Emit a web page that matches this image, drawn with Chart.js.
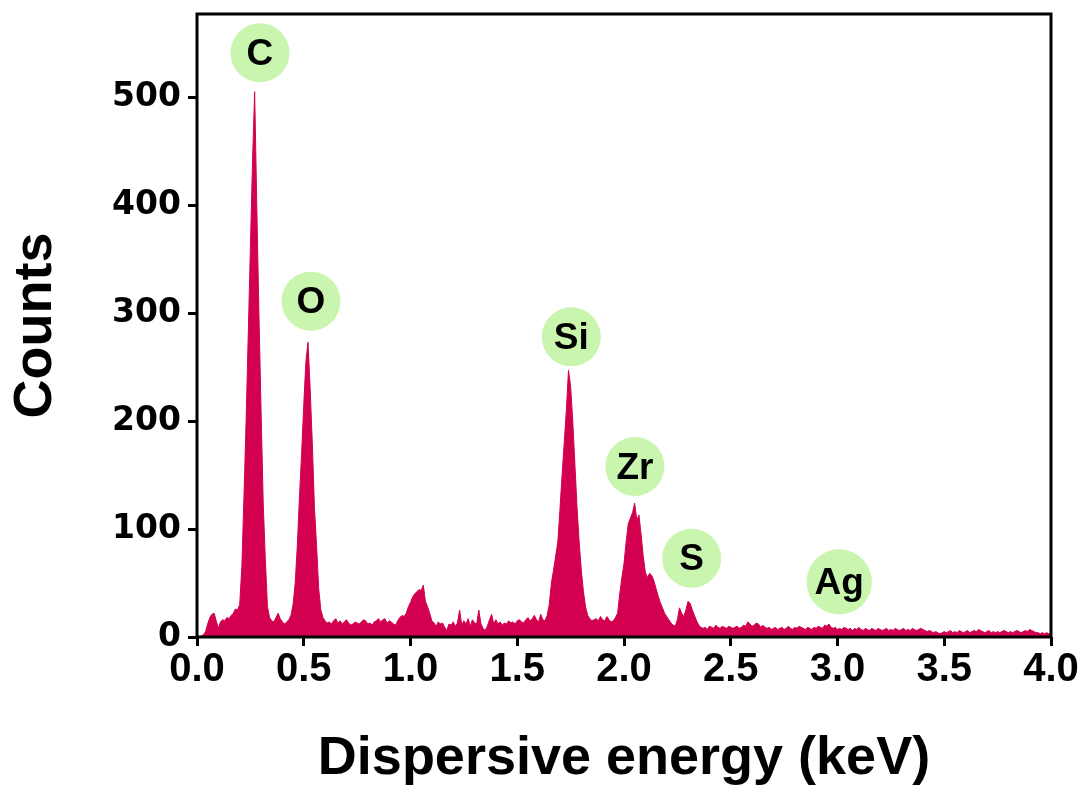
<!DOCTYPE html>
<html lang="en">
<head>
    <meta charset="UTF-8">
    <title>EDS Spectrum</title>
    <script src="https://cdn.jsdelivr.net/npm/chart.js"></script>
    <style>
        body {
            margin: 0;
            background-color: #fff;
        }
        #spectrum {
            display: block;
        }
    </style>
</head>
<body>
    <canvas id="spectrum" width="1085" height="792"></canvas>

    <script>
        // counts, one value every 0.01 keV
        const E_STEP = 0.01;
        const counts0to1 = [
            0, 0, 1, 2, 5, 12, 18, 21, 22, 15,
            8, 14, 16, 15, 18, 17, 20, 22, 26, 25,
            30, 65, 130, 200, 280, 360, 440, 505, 400, 300,
            210, 125, 72, 28, 18, 15, 14, 18, 22, 17,
            14, 12, 14, 16, 20, 30, 50, 85, 130, 170,
            215, 255, 273, 230, 180, 120, 85, 45, 25, 18,
            15, 13, 14, 12, 15, 17, 13, 15, 12, 14,
            16, 13, 11, 12, 14, 13, 12, 14, 16, 15,
            12, 13, 11, 14, 15, 17, 14, 16, 17, 13,
            15, 14, 12, 11, 15, 18, 20, 19, 22, 28
        ];
        const counts1to2 = [
            32, 37, 40, 42, 44, 43, 48, 33, 28, 22,
            15, 13, 10, 14, 12, 13, 9, 6, 12, 11,
            14, 10, 13, 25, 11, 15, 12, 17, 10, 16,
            13, 12, 25, 12, 8, 6, 10, 16, 21, 12,
            16, 12, 14, 11, 13, 12, 15, 13, 14, 12,
            15, 16, 14, 13, 16, 18, 15, 17, 20, 16,
            14, 21, 16, 15, 20, 30, 50, 62, 75, 88,
            118, 150, 180, 210, 247, 232, 200, 160, 120, 88,
            62, 42, 28, 20, 17, 15, 16, 17, 15, 19,
            16, 15, 19, 16, 14, 15, 18, 22, 40, 55
        ];
        const counts2to3 = [
            68, 88, 105, 110, 115, 124, 108, 113, 95, 75,
            60, 55, 59, 57, 52, 45, 38, 32, 27, 22,
            19, 16, 13, 11, 10, 16, 27, 22, 19, 25,
            33, 31, 25, 20, 15, 11, 9, 8, 9, 7,
            10, 9, 8, 11, 9, 8, 10, 9, 8, 10,
            9, 8, 9, 10, 8, 9, 11, 10, 14, 12,
            10, 11, 13, 12, 9, 11, 9, 8, 9, 7,
            8, 9, 7, 8, 9, 7, 8, 10, 8, 7,
            9, 8, 10, 9, 8, 7, 9, 8, 7, 9,
            8, 10, 9, 8, 11, 10, 12, 9, 8, 9
        ];
        const counts3to4 = [
            7, 8, 7, 9, 8, 7, 8, 6, 8, 7,
            9, 7, 6, 8, 7, 6, 8, 7, 6, 8,
            7, 6, 7, 8, 6, 7, 6, 8, 7, 6,
            7, 8, 6, 7, 6, 8, 7, 6, 7, 8,
            7, 6, 5, 6, 5, 4, 5, 4, 3, 4,
            5, 4, 5, 6, 4, 5, 4, 6, 5, 4,
            5, 6, 4, 5, 6, 5, 7, 6, 5, 4,
            5, 6, 4, 5, 4, 5, 4, 5, 6, 5,
            4, 5, 4, 5, 6, 5, 4, 5, 6, 5,
            7, 6, 5, 4, 4, 3, 4, 3, 4, 3, 3
        ];

        // element badges: name, energy (keV) and counts of the badge centre
        const peakNames = ['C', 'O', 'Si', 'Zr', 'S', 'Ag'];
        const peakLabelE = [0.295, 0.534, 1.753, 2.051, 2.317, 3.008];
        const peakLabelCounts = [541, 311, 278, 158, 73, 51];

        const counts = [...counts0to1, ...counts1to2, ...counts2to3, ...counts3to4];
        const points = counts.map((c, i) => ({ x: +(i * E_STEP).toFixed(2), y: c }));

        const FONT = 'Liberation Sans, Arial, sans-serif';

        const framePlugin = {
            id: 'frame',
            afterDraw(chart) {
                const { ctx, chartArea: a, scales } = chart;
                ctx.save();
                ctx.strokeStyle = '#000';
                ctx.lineWidth = 3;
                ctx.strokeRect(a.left, a.top, a.right - a.left, a.bottom - a.top);

                ctx.font = 'bold 37px ' + FONT;
                ctx.textAlign = 'center';
                ctx.textBaseline = 'middle';
                peakNames.forEach((name, i) => {
                    const cx = scales.x.getPixelForValue(peakLabelE[i]);
                    const cy = scales.y.getPixelForValue(peakLabelCounts[i]);
                    const r = Math.max(29.5, ctx.measureText(name).width / 2 + 8);
                    ctx.fillStyle = '#C9F5AE';
                    ctx.beginPath();
                    ctx.arc(cx, cy, r, 0, Math.PI * 2);
                    ctx.fill();
                    ctx.fillStyle = '#000';
                    ctx.fillText(name, cx, cy + 2);
                });
                ctx.restore();
            }
        };

        const ctx = document.getElementById('spectrum').getContext('2d');
        const chart = new Chart(ctx, {
            type: 'line',
            data: {
                datasets: [{
                    data: points,
                    borderColor: '#D2004F',
                    backgroundColor: '#D2004F',
                    borderWidth: 1,
                    pointRadius: 0,
                    tension: 0,
                    fill: 'origin'
                }]
            },
            options: {
                responsive: false,
                animation: false,
                devicePixelRatio: 1,
                layout: { padding: { top: 14, right: 34, left: 0, bottom: 0 } },
                plugins: {
                    legend: { display: false },
                    tooltip: { enabled: false }
                },
                scales: {
                    x: {
                        type: 'linear',
                        min: 0,
                        max: 4,
                        afterFit(scale) {
                            scale.height = 792 - 637;
                            scale.paddingLeft = 0;
                            scale.paddingRight = 0;
                        },
                        border: { display: false },
                        grid: { drawOnChartArea: false, tickLength: 9, lineWidth: 3, color: '#000' },
                        ticks: {
                            stepSize: 0.5,
                            autoSkip: false,
                            maxRotation: 0,
                            padding: 0,
                            color: '#000',
                            font: { family: FONT, weight: 'bold', size: 40 },
                            callback: v => v.toFixed(1)
                        },
                        title: {
                            display: true,
                            text: 'Dispersive energy (keV)',
                            color: '#000',
                            padding: { top: 0, bottom: 0 },
                            font: { family: FONT, weight: 'bold', size: 54 }
                        }
                    },
                    y: {
                        min: 0,
                        max: 577,
                        afterFit(scale) {
                            scale.width = 197;
                            scale.paddingTop = 0;
                            scale.paddingBottom = 0;
                        },
                        border: { display: false },
                        grid: { drawOnChartArea: false, tickLength: 9, lineWidth: 3, color: '#000' },
                        ticks: {
                            stepSize: 100,
                            includeBounds: false,
                            padding: 7,
                            color: '#000',
                            font: { family: 'DejaVu Sans, sans-serif', weight: 'bold', size: 33 }
                        },
                        title: {
                            display: true,
                            text: 'Counts',
                            color: '#000',
                            padding: { top: 4, bottom: 0 },
                            font: { family: FONT, weight: 'bold', size: 54 }
                        }
                    }
                }
            },
            plugins: [framePlugin]
        });
    </script>
</body>
</html>
